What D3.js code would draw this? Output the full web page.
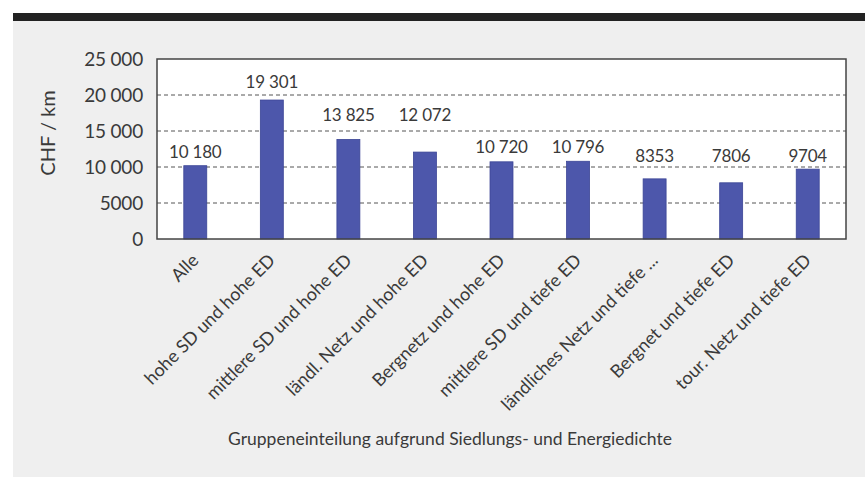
<!DOCTYPE html>
<html>
<head>
<meta charset="utf-8">
<style>
body {margin:0; background:#fff;}
text {font-family: Lato, "Open Sans", sans-serif; fill:#3a3a3a;}
</style>
<script src="https://d3js.org/d3.v7.min.js"></script>
</head>
<body>
<svg id="vis" width="865" height="477"></svg>
<script>
// data
var categories = ["Alle", "hohe SD und hohe ED", "mittlere SD und hohe ED", "ländl. Netz und hohe ED",
  "Bergnetz und hohe ED", "mittlere SD und tiefe ED", "ländliches Netz und tiefe ...",
  "Bergnet und tiefe ED", "tour. Netz und tiefe ED"];
var costPerKm = [10180, 19301, 13825, 12072, 10720, 10796, 8353, 7806, 9704];
var yTicks = [0, 5000, 10000, 15000, 20000, 25000];

// label lift above bar top (px), as placed in the original
var labelLift = [8, 12, 18, 31, 9, 8, 17, 21, 7];

var svg = d3.select("#vis");
var pl = 157, pr = 846, pt = 59, pb = 239;

// paper + dark band
svg.append("rect").attr("x", 13).attr("y", 13).attr("width", 852).attr("height", 464).style("fill", "#efefef");
svg.append("rect").attr("x", 13).attr("y", 13).attr("width", 852).attr("height", 8).style("fill", "#222");

var loc = d3.formatLocale({decimal: ".", thousands: " ", grouping: [3], currency: ["", ""]});
var fmt = function(v){ return v >= 10000 ? loc.format(",")(v) : String(v); };

var x = d3.scaleBand().domain(categories).range([pl, pr]).paddingInner(0.7).paddingOuter(0.35);
var y = d3.scaleLinear().domain([0, 25000]).range([pb, pt]);

svg.append("rect").attr("x", pl).attr("y", pt).attr("width", pr-pl).attr("height", pb-pt)
  .style("fill", "#fff");

// grid
svg.selectAll("line.grid").data(yTicks.slice(1, 5)).enter().append("line")
  .attr("class", "grid")
  .attr("x1", pl).attr("x2", pr)
  .attr("y1", function(d){ return y(d); }).attr("y2", function(d){ return y(d); })
  .style("stroke", "#555").style("stroke-width", 1).style("stroke-dasharray", "4,3");

// bars
svg.selectAll("rect.bar").data(costPerKm).enter().append("rect")
  .attr("class", "bar")
  .attr("x", function(d,i){ return x(categories[i]); })
  .attr("width", x.bandwidth())
  .attr("y", function(d){ return y(d); })
  .attr("height", function(d){ return pb - y(d); })
  .style("fill", "#4d57ab").style("stroke", "#3b4596").style("stroke-width", 0.8);

// frame
svg.append("rect").attr("x", pl).attr("y", pt).attr("width", pr-pl).attr("height", pb-pt)
  .style("fill", "none").style("stroke", "#444").style("stroke-width", 1.5);

// value labels
svg.selectAll("text.val").data(costPerKm).enter().append("text")
  .attr("class", "val")
  .attr("x", function(d,i){ return x(categories[i]) + x.bandwidth()/2; })
  .attr("y", function(d,i){ return y(d) - labelLift[i]; })
  .attr("text-anchor", "middle")
  .style("font-size", "17px").style("letter-spacing", "-0.2px")
  .text(fmt);

// y axis labels
svg.selectAll("text.ytick").data(yTicks).enter().append("text")
  .attr("class", "ytick")
  .attr("x", 143)
  .attr("y", function(d){ return y(d); })
  .attr("dy", "0.36em")
  .attr("text-anchor", "end")
  .style("font-size", "19px").style("letter-spacing", "-0.2px")
  .text(fmt);

svg.append("text")
  .attr("transform", "translate(55,133) rotate(-90)")
  .attr("text-anchor", "middle")
  .style("font-size", "20px")
  .text("CHF / km");

// category labels
svg.selectAll("text.cat").data(categories).enter().append("text")
  .attr("class", "cat")
  .attr("transform", function(d){ return "translate(" + (x(d) + x.bandwidth()/2) + ",257) rotate(-45)"; })
  .attr("text-anchor", "end")
  .attr("dy", "0.35em")
  .style("font-size", "18px")
  .text(function(d){ return d; });

svg.append("text")
  .attr("x", 450).attr("y", 445)
  .attr("text-anchor", "middle")
  .style("font-size", "17.5px")
  .text("Gruppeneinteilung aufgrund Siedlungs- und Energiedichte");
</script>
</body>
</html>
